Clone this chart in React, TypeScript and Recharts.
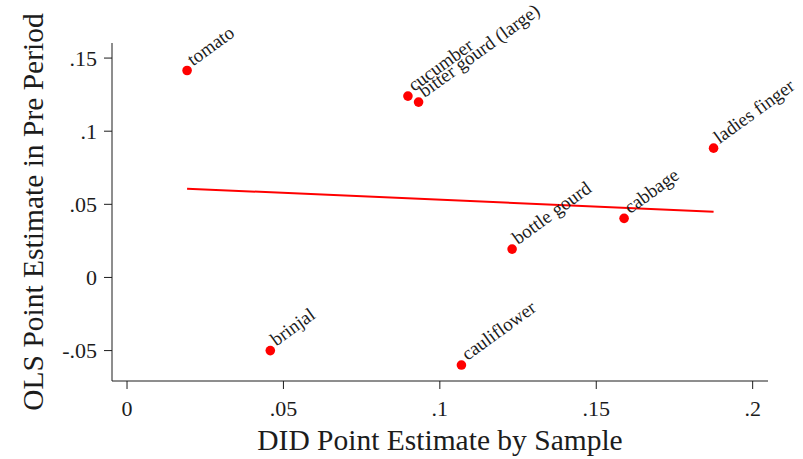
// App.tsx - OLS pre-period estimate vs DID estimate by vegetable sample
import { ScatterChart, Scatter, XAxis, YAxis } from 'recharts';

const crops = ['tomato', 'cucumber', 'bitter gourd (large)', 'ladies finger', 'cabbage', 'bottle gourd', 'cauliflower', 'brinjal'];
const didEstimate = [0.0192, 0.0898, 0.0932, 0.1875, 0.1589, 0.1231, 0.1069, 0.0458];
const olsEstimate = [0.1415, 0.124, 0.1199, 0.0884, 0.0404, 0.0194, -0.0599, -0.05];

// fitted line end points
const fitX = [0.0192, 0.1875];
const fitY = [0.0607, 0.0449];

const xTicks = [0, 0.05, 0.1, 0.15, 0.2];
const yTicks = [-0.05, 0, 0.05, 0.1, 0.15];

const points = crops.map((name, i) => ({ name, x: didEstimate[i], y: olsEstimate[i] }));
const fitLine = fitX.map((x, i) => ({ x, y: fitY[i] }));

const FONT = '"Liberation Serif", "DejaVu Serif", serif';
const INK = '#1c1c1c';

// Stata style numbers: .05 instead of 0.05
const stataFmt = (v: number) => {
  if (v === 0) return '0';
  const s = String(Number(v.toFixed(3)));
  return s.replace(/^(-?)0\./, '$1.');
};

const LabeledDot = (props: any) => {
  const { cx, cy, payload } = props;
  if (cx == null || cy == null) return <g />;
  const tx = cx + 6;
  const ty = cy - 4;
  return (
    <g>
      <circle cx={cx} cy={cy} r={4.8} fill="#ff0000" />
      <text
        x={tx}
        y={ty}
        transform={`rotate(-36, ${tx}, ${ty})`}
        fontFamily={FONT}
        fontSize={19}
        fill={INK}
      >
        {payload.name}
      </text>
    </g>
  );
};

const App = () => {
  return (
    <div style={{ position: 'absolute', left: 0, top: 0, width: 803, height: 459, background: '#fff' }}>
      <ScatterChart width={803} height={459} margin={{ top: 43, right: 35, bottom: 0, left: 0 }}>
        <XAxis
          type="number"
          dataKey="x"
          domain={[-0.0048, 0.2049]}
          ticks={xTicks}
          tickFormatter={stataFmt}
          height={78}
          tickSize={8}
          tickMargin={11}
          stroke={INK}
          tick={{ fill: INK, fontSize: 22, fontFamily: FONT }}
          label={{ value: 'DID Point Estimate by Sample', position: 'insideBottom', offset: 9, style: { fill: INK, fontSize: 29.5, fontFamily: FONT } }}
        />
        <YAxis
          type="number"
          dataKey="y"
          domain={[-0.0708, 0.1603]}
          ticks={yTicks}
          tickFormatter={stataFmt}
          width={112}
          tickSize={8}
          tickMargin={7}
          stroke={INK}
          tick={{ fill: INK, fontSize: 22, fontFamily: FONT }}
          label={{ value: 'OLS Point Estimate in Pre Period', angle: -90, position: 'insideLeft', offset: 33, style: { textAnchor: 'middle', fill: INK, fontSize: 29.5, fontFamily: FONT } }}
        />
        <Scatter
          data={fitLine}
          line={{ stroke: '#ff0000', strokeWidth: 2 }}
          shape={() => <g />}
          isAnimationActive={false}
        />
        <Scatter data={points} shape={LabeledDot} isAnimationActive={false} />
      </ScatterChart>
    </div>
  );
};

export default App;
